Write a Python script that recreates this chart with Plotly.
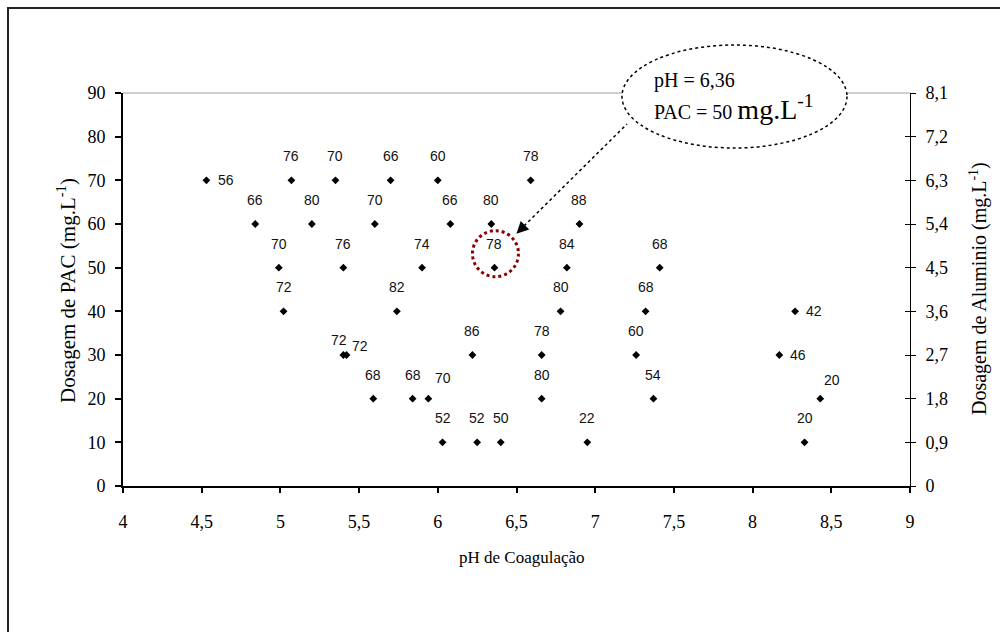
import plotly.graph_objects as go

# ---- data ----
ph = [4.53, 5.07, 5.35, 5.70, 6.00, 6.59,
      4.84, 5.20, 5.60, 6.08, 6.34, 6.90,
      4.99, 5.40, 5.90, 6.36, 6.82, 7.41,
      5.02, 5.74, 6.78, 7.32, 8.27,
      5.40, 5.42, 6.22, 6.66, 7.26, 8.17,
      5.59, 5.84, 5.94, 6.66, 7.37, 8.43,
      6.03, 6.25, 6.40, 6.95, 8.33]
pac = [70, 70, 70, 70, 70, 70,
       60, 60, 60, 60, 60, 60,
       50, 50, 50, 50, 50, 50,
       40, 40, 40, 40, 40,
       30, 30, 30, 30, 30, 30,
       20, 20, 20, 20, 20, 20,
       10, 10, 10, 10, 10]
remocao = [56, 76, 70, 66, 60, 78,
           66, 80, 70, 66, 80, 88,
           70, 76, 74, 78, 84, 68,
           72, 82, 80, 68, 42,
           72, 72, 86, 78, 60, 46,
           68, 68, 70, 80, 54, 20,
           52, 52, 50, 22, 20]

x_tickvals = [4, 4.5, 5, 5.5, 6, 6.5, 7, 7.5, 8, 8.5, 9]
x_ticktext = ["4", "4,5", "5", "5,5", "6", "6,5", "7", "7,5", "8", "8,5", "9"]
y_tickvals = [0, 10, 20, 30, 40, 50, 60, 70, 80, 90]
y2_tickvals = [0, 0.9, 1.8, 2.7, 3.6, 4.5, 5.4, 6.3, 7.2, 8.1]
y2_ticktext = ["0", "0,9", "1,8", "2,7", "3,6", "4,5", "5,4", "6,3", "7,2", "8,1"]
fator_aluminio = 0.09

best_ph = 6.36
best_pac = 50
best_index = 15

# ---- label placement (pixel offsets, style only) ----
default_shift = (0, 24)
label_shift = {0: (20, 0), 22: (19, 0), 28: (19, 0), 34: (12, 19),
               23: (-4, 15), 24: (13, 9), 31: (15, 21)}

SERIF = "Liberation Serif, Times New Roman, serif"
SANS = "Liberation Sans, Arial, sans-serif"

fig = go.Figure()
fig.add_trace(go.Scatter(
    x=ph, y=pac, mode="markers",
    marker=dict(symbol="diamond", size=6, color="black"),
    showlegend=False, hoverinfo="x+y"))
fig.add_trace(go.Scatter(
    x=ph, y=[v * fator_aluminio for v in pac], yaxis="y2", mode="markers",
    marker=dict(size=1, opacity=0), showlegend=False, hoverinfo="skip"))
fig.add_trace(go.Scatter(
    x=ph, y=pac, yaxis="y3", mode="markers",
    marker=dict(size=1, opacity=0), showlegend=False, hoverinfo="skip"))

annotations = []
for i, (xv, yv, lab) in enumerate(zip(ph, pac, remocao)):
    dx, dy = label_shift.get(i, default_shift)
    annotations.append(dict(
        x=xv, y=yv, xref="x", yref="y", text=str(lab), showarrow=False,
        xshift=dx, yshift=dy, font=dict(family=SANS, size=14, color="#111"),
        xanchor="center", yanchor="middle"))

W, H = 1000, 632
L, R, T, B = 123, 90, 93, 146
pw, ph_ = W - L - R, H - T - B


def px(xp):
    return (xp - L) / pw


def py(yp):
    return (H - B - yp) / ph_


# axis titles
annotations.append(dict(x=px(522), y=py(557), xref="paper", yref="paper",
                        xanchor="center", yanchor="middle",
                        text="pH de Coagulação", showarrow=False,
                        font=dict(family=SERIF, size=17, color="black")))
annotations.append(dict(x=px(66), y=py(291), xref="paper", yref="paper",
                        xanchor="center", yanchor="middle",
                        text="Dosagem de PAC (mg.L<sup>-1</sup>)", textangle=-90,
                        showarrow=False, font=dict(family=SERIF, size=21, color="black")))
annotations.append(dict(x=px(978), y=py(289), xref="paper", yref="paper",
                        xanchor="center", yanchor="middle",
                        text="Dosagem de Aluminio (mg.L<sup>-1</sup>)", textangle=-90,
                        showarrow=False, font=dict(family=SERIF, size=20, color="black")))

# callout text
best_ph_txt = f"{best_ph:.2f}".replace(".", ",")
annotations.append(dict(x=px(652), y=py(80), xref="paper", yref="paper",
                        text=f"pH = {best_ph_txt}", showarrow=False,
                        xanchor="left", yanchor="middle",
                        font=dict(family=SERIF, size=20, color="black")))
annotations.append(dict(x=px(652), y=py(107), xref="paper", yref="paper",
                        text=f"PAC = {best_pac} <span style='font-size:28px'>mg.L<sup>-1</sup></span>",
                        showarrow=False, xanchor="left", yanchor="middle",
                        font=dict(family=SERIF, size=20, color="black")))
# arrow head pointing at highlighted point
annotations.append(dict(x=ph[best_index], y=pac[best_index], xref="x", yref="y",
                        xshift=22, yshift=34, ax=8, ay=-8, axref="pixel", ayref="pixel",
                        showarrow=True, arrowhead=2, arrowsize=1.6, arrowwidth=1.5,
                        arrowcolor="black", text=""))

shapes = [
    # outer frame
    dict(type="rect", xref="paper", yref="paper", x0=px(8), x1=px(1010),
         y0=py(645), y1=py(8), line=dict(color="#222", width=2), layer="below"),
    # top gray line of plot area
    dict(type="line", xref="paper", yref="paper", x0=0, x1=1, y0=1, y1=1,
         line=dict(color="#a0a0a0", width=1)),
    # dotted arrow shaft
    dict(type="line", xref="paper", yref="paper", x0=px(524), y0=py(226),
         x1=px(627), y1=py(124), line=dict(color="black", width=1.5, dash="dot")),
    # callout ellipse
    dict(type="circle", xref="paper", yref="paper", x0=px(622), x1=px(847),
         y0=py(148), y1=py(45), fillcolor="white",
         line=dict(color="black", width=1.5, dash="dot")),
    # red dotted circle around the optimum
    dict(type="circle", xref="x", yref="y", xsizemode="pixel", ysizemode="pixel",
         xanchor=ph[best_index], yanchor=pac[best_index],
         x0=-22, x1=24, y0=-9, y1=37,
         line=dict(color="#8b0000", width=3, dash="dot")),
]

tickfont = dict(family=SERIF, size=18, color="black")
fig.update_layout(
    width=W, height=H, autosize=False,
    margin=dict(l=L, r=R, t=T, b=B),
    paper_bgcolor="white", plot_bgcolor="white",
    showlegend=False,
    xaxis=dict(range=[4, 9], tickvals=x_tickvals, ticktext=x_ticktext,
               showgrid=False, zeroline=False, showline=True, linecolor="black",
               linewidth=2, ticks="outside", ticklen=5, tickwidth=2, tickcolor="black",
               tickfont=tickfont, ticklabelstandoff=13),
    yaxis=dict(range=[0, 90], tickvals=y_tickvals, showgrid=False, zeroline=False,
               showline=True, linecolor="black", linewidth=2, ticks="outside",
               ticklen=6, tickwidth=2, tickcolor="black", tickfont=tickfont,
               ticklabelstandoff=6),
    yaxis2=dict(range=[0, 8.1], tickvals=y2_tickvals, ticktext=y2_ticktext,
                overlaying="y", side="right", anchor="x", showgrid=False,
                zeroline=False, showline=True, linecolor="black", linewidth=1,
                ticks="outside", ticklen=5, tickwidth=1, tickcolor="black",
                tickfont=tickfont, ticklabelstandoff=6),
    yaxis3=dict(range=[0, 90], tickvals=y_tickvals, overlaying="y", side="right",
                anchor="x", showgrid=False, zeroline=False, showline=False,
                ticks="inside", ticklen=5, tickwidth=1, tickcolor="black",
                showticklabels=False),
    annotations=annotations,
    shapes=shapes,
)

fig.write_html("out.html")
